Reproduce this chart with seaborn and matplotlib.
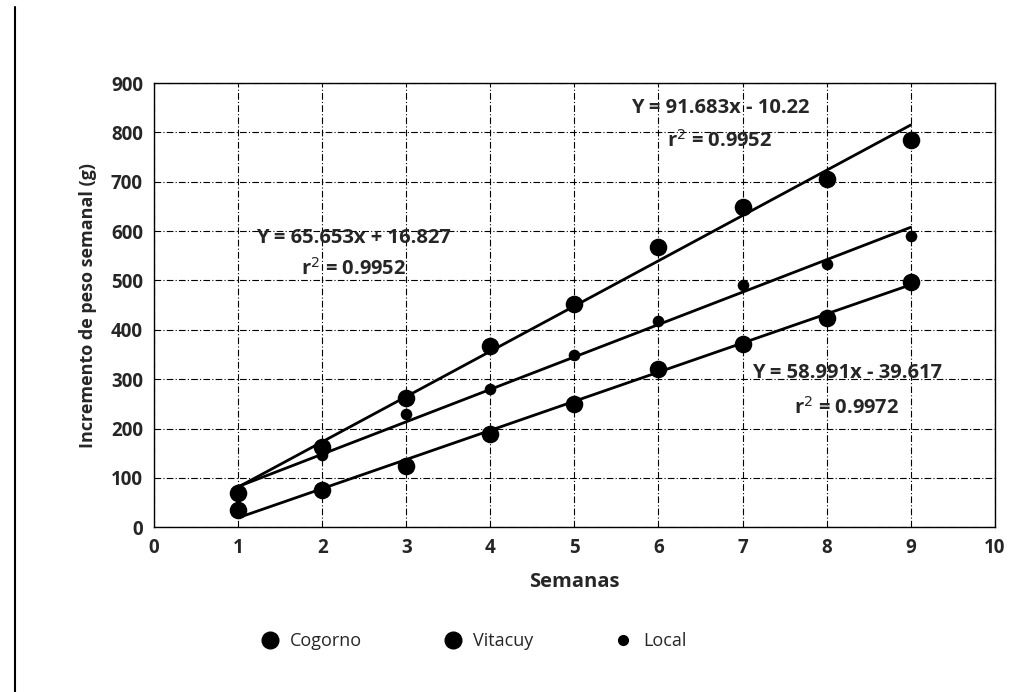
import numpy as np
import pandas as pd
import seaborn as sns
import matplotlib.pyplot as plt
from matplotlib.lines import Line2D

# data
semanas = [1, 2, 3, 4, 5, 6, 7, 8, 9]
cogorno = [35, 75, 125, 190, 250, 320, 372, 425, 496]
vitacuy = [70, 162, 261, 368, 452, 567, 648, 706, 785]
local = [75, 146, 229, 281, 350, 417, 490, 534, 591]

series_names = ["Cogorno", "Vitacuy", "Local"]
slopes = [58.991, 91.683, 65.653]
intercepts = [-39.617, -10.22, 16.827]
equations = ["Y = 58.991x - 39.617", "Y = 91.683x - 10.22", "Y = 65.653x + 16.827"]
r2_labels = ["r$^2$ = 0.9972", "r$^2$ = 0.9952", "r$^2$ = 0.9952"]
label_pos = [(8.24, 312, 241), (6.73, 850, 782), (2.37, 587, 524)]

sns.set_style("white")
plt.rcParams['font.family'] = ['Open Sans', 'DejaVu Sans']

df = pd.DataFrame({
    "Semanas": semanas * 3,
    "valor": cogorno + vitacuy + local,
    "serie": ["Cogorno"] * 9 + ["Vitacuy"] * 9 + ["Local"] * 9,
})

fig = plt.figure(figsize=(10.34, 6.92), dpi=100)
ax = fig.add_axes([0.149, 0.238, 0.813, 0.642])

sizes = {"Cogorno": 160, "Vitacuy": 160, "Local": 70}
for name in series_names:
    sub = df[df["serie"] == name]
    sns.scatterplot(data=sub, x="Semanas", y="valor", color="black", s=sizes[name],
                    edgecolor="black", linewidth=0, ax=ax, label=name, zorder=3)

# trend lines
for name, m, b in zip(series_names, slopes, intercepts):
    xs = np.array([semanas[0], semanas[-1]])
    sns.lineplot(x=xs, y=m * xs + b, color="black", linewidth=2, ax=ax, zorder=2)

for eq, r2, (xc, y1, y2) in zip(equations, r2_labels, label_pos):
    ax.text(xc, y1, eq, ha="center", va="center", fontsize=14.5, fontweight="bold")
    ax.text(xc, y2, r2, ha="center", va="center", fontsize=14.5, fontweight="bold")

ax.set_xlim(0, 10)
ax.set_ylim(0, 900)
ax.set_xticks(range(0, 11))
ax.set_yticks(range(0, 901, 100))
ax.grid(True, color="black", linestyle=(0, (6, 2, 1, 2)), linewidth=0.8)
for sp in ax.spines.values():
    sp.set_color("black")
    sp.set_linewidth(1)
ax.tick_params(axis="both", labelsize=13.5, length=0, pad=8)
for lbl in ax.get_xticklabels() + ax.get_yticklabels():
    lbl.set_fontweight("bold")
ax.set_xlabel("Semanas", fontsize=14.5, fontweight="bold", labelpad=10)
ax.set_ylabel("Incremento de peso semanal (g)", fontsize=13, fontweight="bold", labelpad=10)

handles = [Line2D([], [], marker="o", linestyle="none", color="black", markersize=ms)
           for ms in (12, 12, 7)]
ax.legend(handles, series_names, loc="upper center", bbox_to_anchor=(0.375, -0.20),
          ncol=3, frameon=False, fontsize=13, handletextpad=0.1, columnspacing=4.0)

# page border on the left
fig.add_artist(Line2D([0.0145, 0.0145], [0.0, 0.99], color="black", linewidth=1.5))

fig.savefig("out.png", dpi=100)
